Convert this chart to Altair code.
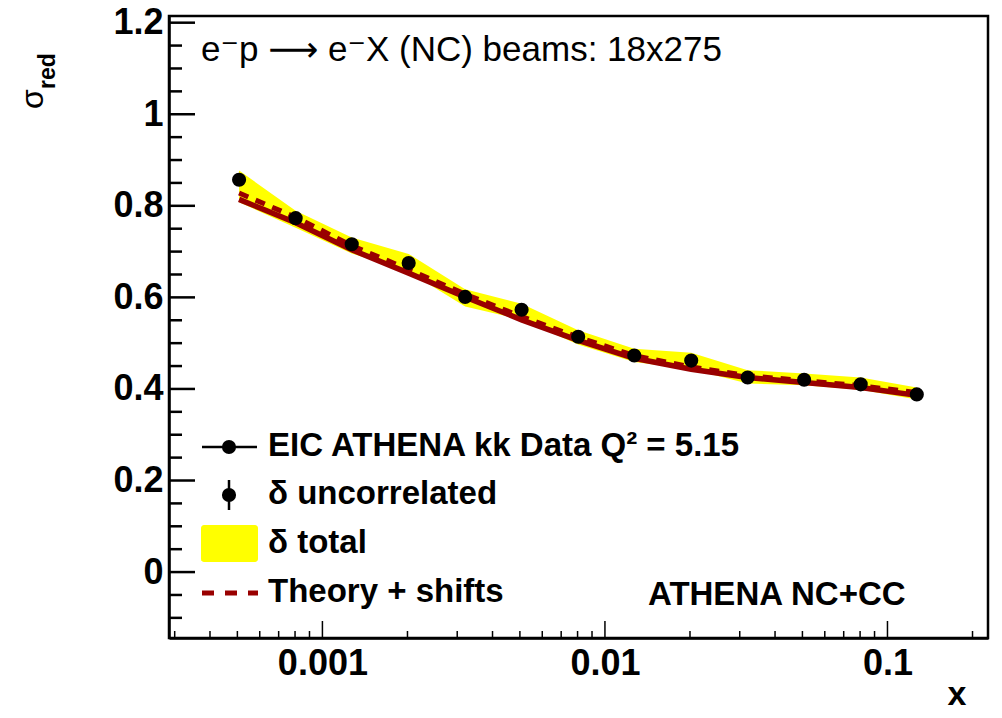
import altair as alt
import pandas as pd

# ---- data ----
x_vals = [5.07e-4, 8.04e-4, 1.27e-3, 2.02e-3, 3.20e-3, 5.07e-3, 8.04e-3,
          1.27e-2, 2.02e-2, 3.20e-2, 5.07e-2, 8.04e-2, 0.127]
sigma_red = [0.857, 0.773, 0.716, 0.675, 0.601, 0.573, 0.514,
             0.473, 0.462, 0.425, 0.420, 0.410, 0.388]
err_unc = [0.006, 0.005, 0.005, 0.004, 0.004, 0.004, 0.004,
           0.003, 0.003, 0.003, 0.003, 0.003, 0.003]
band_hi = [0.877, 0.789, 0.731, 0.695, 0.618, 0.586, 0.528,
           0.488, 0.479, 0.441, 0.434, 0.425, 0.403]
band_lo = [0.808, 0.752, 0.696, 0.656, 0.580, 0.551, 0.497,
           0.459, 0.443, 0.412, 0.408, 0.398, 0.377]
theory = [0.814, 0.763, 0.704, 0.653, 0.601, 0.551, 0.506,
          0.467, 0.443, 0.425, 0.414, 0.403, 0.386]
theory_shift = [0.828, 0.775, 0.713, 0.661, 0.607, 0.558, 0.513,
                0.473, 0.448, 0.429, 0.418, 0.407, 0.392]

y_major = [0, 0.2, 0.4, 0.6, 0.8, 1.0, 1.2]
y_minor = [-0.1, -0.05, 0.05, 0.1, 0.15, 0.25, 0.3, 0.35, 0.45, 0.5, 0.55,
           0.65, 0.7, 0.75, 0.85, 0.9, 0.95, 1.05, 1.1, 1.15]
x_major = [0.001, 0.01, 0.1]
x_minor = [3e-4, 4e-4, 5e-4, 6e-4, 7e-4, 8e-4, 9e-4,
           2e-3, 3e-3, 4e-3, 5e-3, 6e-3, 7e-3, 8e-3, 9e-3,
           2e-2, 3e-2, 4e-2, 5e-2, 6e-2, 7e-2, 8e-2, 9e-2, 0.2]

legend_labels = ["EIC ATHENA kk Data Q\u00b2 = 5.15", "\u03b4 uncorrelated",
                 "\u03b4 total", "Theory + shifts"]
title_text = "e\u207bp \u27f6 e\u207bX (NC) beams: 18x275"
tag_text = "ATHENA NC+CC"

X_DOMAIN = [2.864e-4, 0.2269]
Y_DOMAIN = [-0.144, 1.2146]
W, H = 819, 622
FONT = "Liberation Sans, DejaVu Sans"
DARKRED = "#990000"

df = pd.DataFrame({
    "x": x_vals, "s": sigma_red,
    "lo": band_lo, "hi": band_hi,
    "th": theory, "ths": theory_shift,
})
df["ulo"] = df["s"] - pd.Series(err_unc)
df["uhi"] = df["s"] + pd.Series(err_unc)

xs = alt.Scale(type="log", domain=X_DOMAIN, nice=False)
ys = alt.Scale(domain=Y_DOMAIN, nice=False, zero=False)

xenc = alt.X("x:Q", scale=xs, axis=alt.Axis(
    values=x_major, format="~g", ticks=False, grid=False, title=None,
    labelFont=FONT, labelFontWeight="bold", labelFontSize=36, labelColor="black",
    labelPadding=8, labelFlush=False, labelOverlap=False,
    domainColor="black", domainWidth=2.5))
yenc_axis = alt.Axis(
    values=y_major, format="~g", ticks=False, grid=False, title=None,
    labelFont=FONT, labelFontWeight="bold", labelFontSize=36, labelColor="black",
    labelPadding=6, labelFlush=False, labelOverlap=False,
    domainColor="black", domainWidth=2.5)

base = alt.Chart(df)

band = base.mark_area(color="#FFFF00", opacity=1, interpolate="linear").encode(
    x=xenc, y=alt.Y("lo:Q", scale=ys, axis=yenc_axis), y2="hi:Q")
solid = base.mark_line(color=DARKRED, strokeWidth=5.5).encode(
    x="x:Q", y="th:Q")
dashed = base.mark_line(color=DARKRED, strokeWidth=5, strokeDash=[10, 8]).encode(
    x="x:Q", y="ths:Q")
ebar = base.mark_rule(color="black", strokeWidth=2).encode(
    x="x:Q", y="ulo:Q", y2="uhi:Q")
dots = base.mark_circle(color="black", size=200, opacity=1).encode(
    x="x:Q", y="s:Q")

# inward axis ticks
ymaj = alt.Chart(pd.DataFrame({"v": y_major})).mark_rule(color="black", strokeWidth=2.5).encode(
    y="v:Q", x=alt.value(0), x2=alt.value(26))
ymin = alt.Chart(pd.DataFrame({"v": y_minor})).mark_rule(color="black", strokeWidth=2.5).encode(
    y="v:Q", x=alt.value(0), x2=alt.value(13))
xmaj = alt.Chart(pd.DataFrame({"v": x_major})).mark_rule(color="black", strokeWidth=1.5).encode(
    x="v:Q", y=alt.value(H), y2=alt.value(H - 17))
xmin = alt.Chart(pd.DataFrame({"v": x_minor})).mark_rule(color="black", strokeWidth=1.5).encode(
    x="v:Q", y=alt.value(H), y2=alt.value(H - 7))

one = pd.DataFrame({"a": [0]})


def txt(text, x, y, size, weight="normal", angle=0, align="left"):
    return alt.Chart(one).mark_text(
        text=text, font=FONT, fontSize=size, fontWeight=weight, color="black",
        align=align, baseline="alphabetic", angle=angle).encode(
        x=alt.value(x), y=alt.value(y))


# legend symbols
leg1_line = alt.Chart(one).mark_rule(color="black", strokeWidth=2.5).encode(
    x=alt.value(33), x2=alt.value(88), y=alt.value(431))
leg1_dot = alt.Chart(one).mark_circle(color="black", size=200, opacity=1).encode(
    x=alt.value(60), y=alt.value(431))
leg2_bar = alt.Chart(one).mark_rule(color="black", strokeWidth=2.5).encode(
    x=alt.value(60), y=alt.value(464), y2=alt.value(494))
leg2_dot = alt.Chart(one).mark_circle(color="black", size=200, opacity=1).encode(
    x=alt.value(60), y=alt.value(479))
leg3_box = alt.Chart(one).mark_rect(color="#FFFF00", cornerRadius=3).encode(
    x=alt.value(32), x2=alt.value(89), y=alt.value(509), y2=alt.value(546))
leg4_dash = alt.Chart(one).mark_rule(color=DARKRED, strokeWidth=5, strokeDash=[12, 11]).encode(
    x=alt.value(33), x2=alt.value(89), y=alt.value(577))

texts = [
    txt(legend_labels[0], 99, 440, 33, "bold"),
    txt(legend_labels[1], 99, 488, 33, "bold"),
    txt(legend_labels[2], 99, 537, 33, "bold"),
    txt(legend_labels[3], 99, 586, 33, "bold"),
    txt(tag_text, 479, 589, 33, "bold"),
    txt(title_text, 32, 45, 35),
    txt("x", 788, 689, 34, "bold", align="center"),
    txt("\u03c3", -126, 83, 32, angle=270, align="center"),
    txt("red", -114, 55, 23, "bold", angle=270, align="center"),
]

chart = alt.layer(
    band, solid, dashed, ebar, dots,
    ymaj, ymin, xmaj, xmin,
    leg1_line, leg1_dot, leg2_bar, leg2_dot, leg3_box, leg4_dash,
    *texts
).properties(
    width=W, height=H,
    autosize=alt.AutoSizeParams(type="none"),
    padding={"left": 169, "top": 16, "right": 14, "bottom": 80},
    background="white",
).configure_view(
    stroke="black", strokeWidth=2.5
).configure_axis(grid=False)

chart.save("out.html", embed_options={"renderer": "svg", "actions": False})
